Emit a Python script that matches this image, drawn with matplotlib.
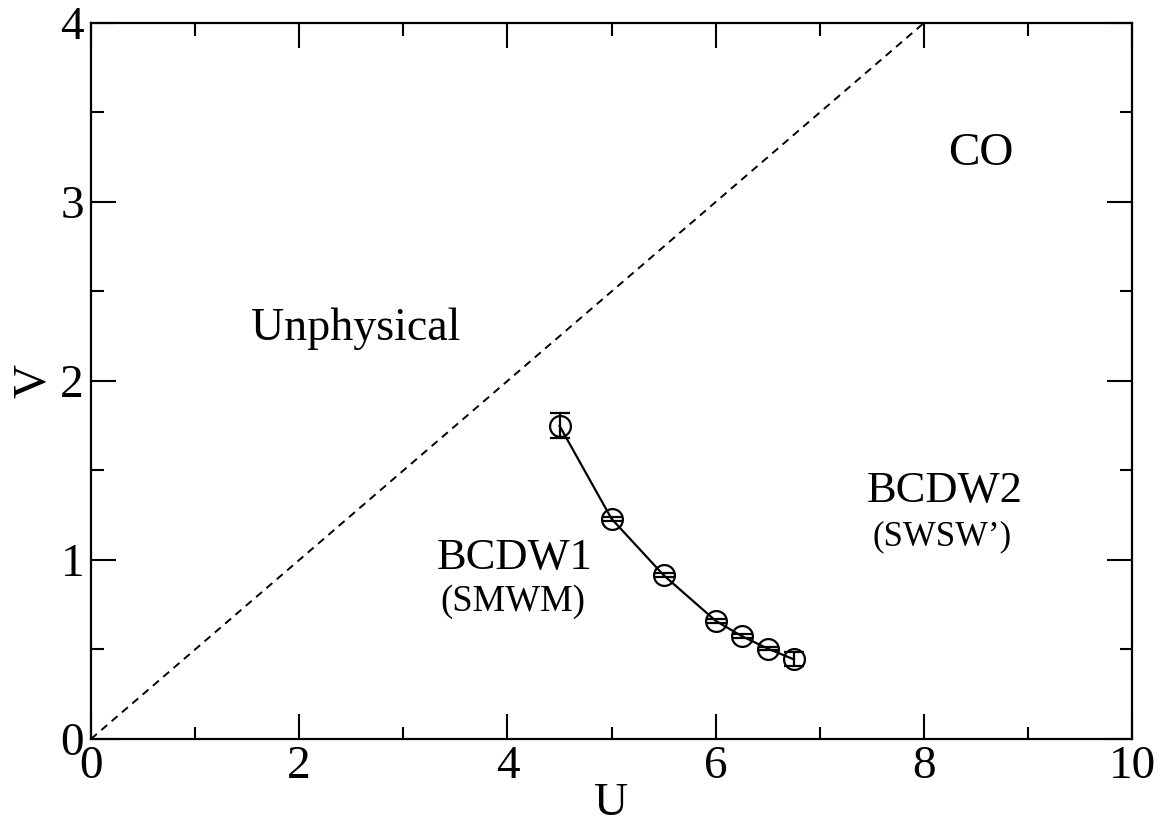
import numpy as np
import matplotlib.pyplot as plt
from matplotlib.ticker import MultipleLocator

plt.rcParams["font.family"] = ["Liberation Serif", "DejaVu Serif"]
plt.rcParams["mathtext.fontset"] = "stix"

# ---- data ----
U_pts = [4.5, 5.0, 5.5, 6.0, 6.25, 6.5, 6.75]
V_pts = [1.75, 1.23, 0.915, 0.66, 0.575, 0.505, 0.445]
V_err = [0.07, 0.01, 0.01, 0.01, 0.01, 0.01, 0.04]

diag_U = [0, 8]
diag_V = [0, 4]

fig = plt.figure(figsize=(11.62, 8.32), dpi=100)
ax = fig.add_axes([0.0783, 0.1118, 0.896, 0.8606])

# unphysical boundary
ax.plot(diag_U, diag_V, color="black", ls=(0, (4, 3)), lw=1.4)

# phase boundary with error bars
ax.plot(U_pts, V_pts, color="black", lw=1.6, zorder=2)
ax.errorbar(U_pts, V_pts, yerr=V_err, fmt="o", ms=15, mfc="none", mec="black",
            mew=1.6, ecolor="black", elinewidth=1.6, capsize=7, capthick=1.6,
            zorder=3)

# region labels
ax.text(2.54, 2.29, "Unphysical", fontsize=33, ha="center", va="center")
ax.text(4.07, 1.01, "BCDW1", fontsize=32, ha="center", va="center")
ax.text(4.05, 0.765, "(SMWM)", fontsize=26.5, ha="center", va="center")
ax.text(8.2, 1.385, "BCDW2", fontsize=32, ha="center", va="center")
ax.text(8.17, 1.13, "(SWSW\u2019)", fontsize=25, ha="center", va="center")
ax.text(8.55, 3.27, "CO", fontsize=34, ha="center", va="center")

ax.set_xlim(0, 10)
ax.set_ylim(0, 4)
ax.xaxis.set_major_locator(MultipleLocator(2))
ax.xaxis.set_minor_locator(MultipleLocator(1))
ax.yaxis.set_major_locator(MultipleLocator(1))
ax.yaxis.set_minor_locator(MultipleLocator(0.5))
ax.tick_params(which="both", direction="in", top=True, right=True, width=1.5)
ax.tick_params(which="major", length=18, labelsize=34, pad=5)
ax.tick_params(which="minor", length=9)
for s in ax.spines.values():
    s.set_linewidth(1.6)

ax.set_xlabel("U", fontsize=34, labelpad=-4)
ax.set_ylabel("V", fontsize=34, labelpad=4)

fig.savefig("out.png", dpi=100)
